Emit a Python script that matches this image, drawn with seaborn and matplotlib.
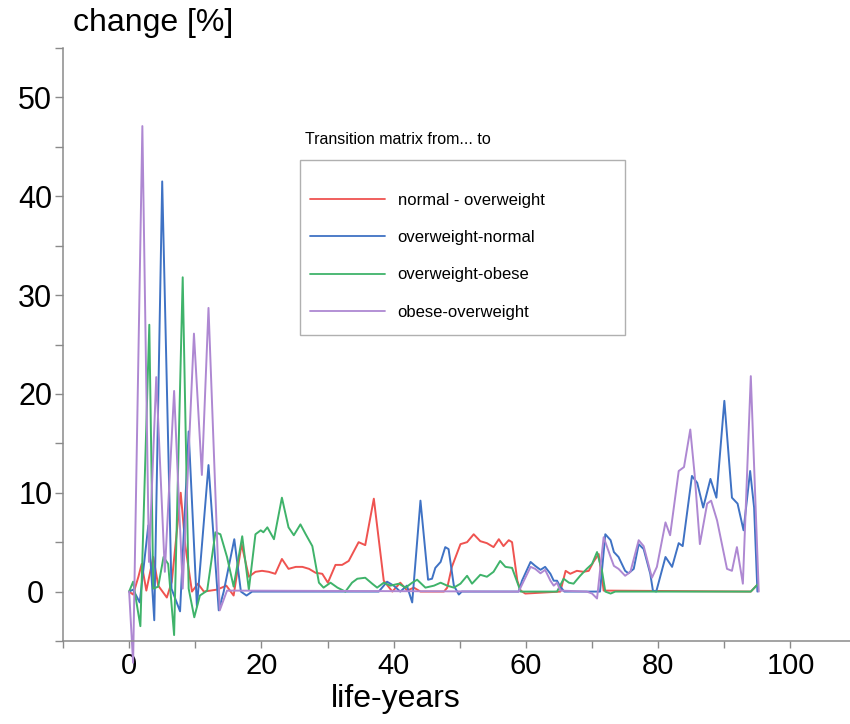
import matplotlib
matplotlib.use("Agg")
import matplotlib.pyplot as plt
from matplotlib.patches import Rectangle
from matplotlib.ticker import MultipleLocator
import seaborn as sns
import pandas as pd

# ---------------- data ----------------
years_red = [0, 0.6, 1.4, 1.9, 2.6, 3.65, 4.4, 5.7, 6.45, 7.8, 8.5, 9.5, 10.4, 11.3, 12.3,
             13.3, 14.7, 15.8, 17.0, 18.1, 19.1, 20.1, 21.1, 22.1, 23.1, 24.1, 25.2, 26.2,
             27.2, 28.2, 29.2, 30.05, 31.2, 32.2, 33.2, 34.7, 35.7, 37.0, 38.5, 39.8, 41.0,
             42.05, 43.05, 44.05, 47.6, 48.1, 48.8, 50.1, 51.1, 52.1, 53.1, 54.1, 55.1,
             55.9, 56.6, 57.4, 57.9, 58.7, 59.2, 59.9, 65.2, 66.0, 66.7, 67.7, 68.7, 69.5,
             70.2, 71.0, 71.75, 94.0, 95.0]
vals_red = [0, -0.3, 1.5, 2.8, 0.1, 3.5, 0.6, -0.6, 1.0, 10.0, 4.6, 0, 0.8, 0, 0.1,
            0.2, 0.6, -0.4, 4.8, 1.5, 2.0, 2.1, 2.0, 1.8, 3.3, 2.3, 2.5, 2.5,
            2.3, 1.9, 1.8, 0.9, 2.7, 2.7, 3.1, 5.0, 4.7, 9.4, 1.1, 0, 0.9,
            0.1, 0.4, 0, 0, 0.4, 2.5, 4.8, 5.0, 5.8, 5.1, 4.9, 4.5,
            5.3, 4.6, 5.2, 5.0, 1.1, 0.1, -0.2, 0, 2.1, 1.8, 2.1, 2.0, 2.1,
            3.0, 3.8, 0.1, 0, 0.7]

years_blue = [0, 0.6, 1.6, 2.9, 3.8, 5.0, 6.4, 7.7, 9.0, 10.25, 12.0, 13.55, 14.3, 15.9,
              16.9, 17.75, 18.6, 37.75, 39.0, 40.0, 41.0, 42.0, 42.8, 44.05, 45.2, 45.8,
              46.3, 47.1, 47.8, 48.3, 49.1, 49.85, 50.3, 58.9, 59.4, 60.7, 61.4, 62.2,
              62.9, 63.7, 64.2, 64.7, 65.2, 65.8, 71.2, 72.0, 72.8, 73.3, 74.0, 75.0,
              75.5, 76.3, 77.05, 77.8, 78.8, 79.2, 79.7, 81.1, 82.1, 83.1, 83.7, 85.1,
              85.9, 86.8, 87.9, 88.8, 90.0, 91.15, 92.0, 92.9, 93.9, 94.5, 95.0]
vals_blue = [0, 0.2, -1.1, 6.7, -2.9, 41.5, 0.3, -2.0, 16.2, -1.5, 12.8, -1.9, 0, 5.3,
             0, -0.4, 0, 0, 1.0, 0.6, 0, 0.6, -1.1, 9.2, 1.2, 1.3,
             2.4, 3.0, 4.5, 4.3, 0.6, -0.3, 0, 0, 1.1, 3.0, 2.6, 2.2,
             2.5, 1.8, 1.1, 1.1, 0.5, 0, 0, 5.8, 5.2, 4.0, 3.5, 2.1,
             1.85, 2.3, 4.8, 4.3, 1.8, 0.1, 0, 3.5, 2.5, 4.9, 4.6, 11.7,
             11.0, 8.5, 11.4, 9.5, 19.3, 9.5, 8.9, 6.2, 12.2, 8.5, 0]

years_green = [0, 0.6, 1.7, 3.05, 3.65, 4.4, 5.2, 5.9, 6.8, 8.1, 9.0, 9.85, 10.7, 11.8,
               13.05, 13.8, 14.8, 15.8, 17.1, 18.1, 19.1, 19.9, 20.3, 20.9, 21.9, 23.1,
               24.1, 24.9, 25.9, 26.7, 27.7, 28.7, 29.4, 30.45, 31.5, 32.7, 33.7, 34.5,
               35.7, 36.75, 37.5, 38.5, 39.5, 40.8, 41.8, 42.8, 43.55, 44.8, 46.1, 47.1,
               48.1, 49.1, 50.1, 51.1, 51.85, 53.1, 54.1, 55.1, 56.1, 56.9, 57.9, 59.2,
               64.7, 65.7, 66.5, 67.2, 68.2, 69.2, 70.0, 70.75, 71.5, 72.0, 72.8, 73.5,
               94.0, 95.0]
vals_green = [0, 1.0, -3.5, 27.0, 0.3, 0.5, 3.5, 2.8, -4.4, 31.8, 0.3, -2.6, -0.4, 0.1,
              6.0, 5.8, 3.5, 0.5, 5.6, 0.2, 5.8, 6.2, 6.0, 6.5, 5.3, 9.5,
              6.5, 5.7, 6.8, 5.8, 4.6, 0.9, 0.4, 0.9, 0.4, 0, 0.9, 1.3,
              1.4, 0.8, 0.4, 0.9, 0.6, 0.8, 0.4, 0.9, 1.2, 0.4, 0.6, 0.9,
              0.6, 0.4, 0.8, 1.6, 0.8, 1.7, 1.5, 2.0, 3.1, 2.5, 2.4, 0,
              0, 1.3, 0.9, 0.8, 1.6, 2.3, 2.8, 4.0, 2.1, 0, -0.2, 0,
              0, 0.7]

years_purple = [0, 0.6, 2.0, 3.0, 4.1, 5.4, 6.8, 8.1, 9.8, 11.0, 12.0, 13.7, 14.8, 58.9,
                59.4, 60.7, 61.4, 62.2, 62.9, 63.7, 64.2, 64.7, 65.2, 69.2, 70.0, 70.75,
                71.75, 72.8, 73.3, 74.0, 75.0, 75.8, 77.05, 77.8, 79.05, 79.8, 81.1, 81.8,
                83.1, 83.9, 84.85, 85.5, 86.3, 87.4, 88.0, 88.9, 90.4, 91.15, 91.9, 92.8,
                94.0, 95.2]
vals_purple = [0, -7.2, 47.1, 3.0, 21.7, 2.0, 20.3, 0.3, 26.1, 11.8, 28.7, -1.9, 0.1, 0,
               0.7, 2.5, 2.3, 1.85, 2.2, 1.1, 0.6, 0.9, 0.1, 0, -0.2, -0.7,
               5.5, 3.5, 2.6, 2.3, 1.6, 2.0, 5.2, 4.6, 1.4, 2.5, 7.0, 5.7,
               12.2, 12.6, 16.4, 11.9, 4.8, 8.9, 9.2, 7.2, 2.3, 2.1, 4.5, 0.8,
               21.8, 0]

series_names = ["normal - overweight", "overweight-normal", "overweight-obese", "obese-overweight"]
series_colors = ["#ef5350", "#3f72c4", "#3fb36a", "#ae88d2"]
x_ticks = [0, 20, 40, 60, 80, 100]
y_ticks = [0, 10, 20, 30, 40, 50]

# ---------------- plotting ----------------
sns.set_style("ticks")
plt.rcParams["font.family"] = ["Liberation Sans", "DejaVu Sans"]
plt.rcParams["text.color"] = "black"
plt.rcParams["xtick.labelcolor"] = "black"
plt.rcParams["ytick.labelcolor"] = "black"
plt.rcParams["axes.labelcolor"] = "black"

fig = plt.figure(figsize=(8.5, 7.24), dpi=100)
W, H = 850, 724
ax = fig.add_axes([63 / W, 1 - 641 / H, (850 - 63) / W, (641 - 48) / H])

all_series = [(years_red, vals_red), (years_blue, vals_blue),
              (years_green, vals_green), (years_purple, vals_purple)]
for (xs, ys), name, col in zip(all_series, series_names, series_colors):
    df = pd.DataFrame({"year": xs, "val": ys})
    sns.lineplot(data=df, x="year", y="val", ax=ax, color=col, lw=1.4,
                 sort=False, estimator=None, label=name, clip_on=False)

ax.set_xlim(-10, 109)
ax.set_ylim(-5, 55)
ax.set_xticks(x_ticks)
ax.set_yticks(y_ticks)
ax.xaxis.set_minor_locator(MultipleLocator(10))
ax.yaxis.set_minor_locator(MultipleLocator(5))

for s in ["top", "right"]:
    ax.spines[s].set_visible(False)
for s in ["left", "bottom"]:
    ax.spines[s].set_color("#8a8a8a")
    ax.spines[s].set_linewidth(1.1)

ax.tick_params(axis="both", which="both", color="#8a8a8a", width=1.0, direction="out")
ax.tick_params(axis="x", which="major", length=5, pad=3, labelsize=21)
ax.tick_params(axis="x", which="minor", length=5)
ax.tick_params(axis="y", which="major", length=6, pad=14, labelsize=22)
ax.tick_params(axis="y", which="minor", length=6)
for lab in ax.get_yticklabels():
    lab.set_horizontalalignment("center")

ax.set_xlabel("life-years", fontsize=23)
ax.xaxis.set_label_coords(0.423, -0.073)
ax.set_ylabel("")
fig.text(73 / W, 1 - 23 / H, "change [%]", fontsize=23, ha="left", va="center")

# legend box (drawn separately, title sits above it)
ax.add_patch(Rectangle((300 / W, 1 - 335 / H), 325 / W, 175 / H,
                       transform=fig.transFigure, fill=True, facecolor="white",
                       edgecolor="#b0b0b0", lw=1.0, zorder=3, clip_on=False))
leg = ax.legend(loc="upper left", bbox_to_anchor=(310 / W, 1 - 193 / H),
                bbox_transform=fig.transFigure, frameon=False, fontsize=12,
                handlelength=4.5, handletextpad=0.75, labelspacing=1.33,
                borderaxespad=0, borderpad=0)
leg.set_zorder(6)
for h in leg.get_lines():
    h.set_linewidth(1.3)
fig.text(305 / W, 1 - 139 / H, "Transition matrix from... to", fontsize=11.5,
         ha="left", va="center")

fig.savefig("out.png", dpi=100)
